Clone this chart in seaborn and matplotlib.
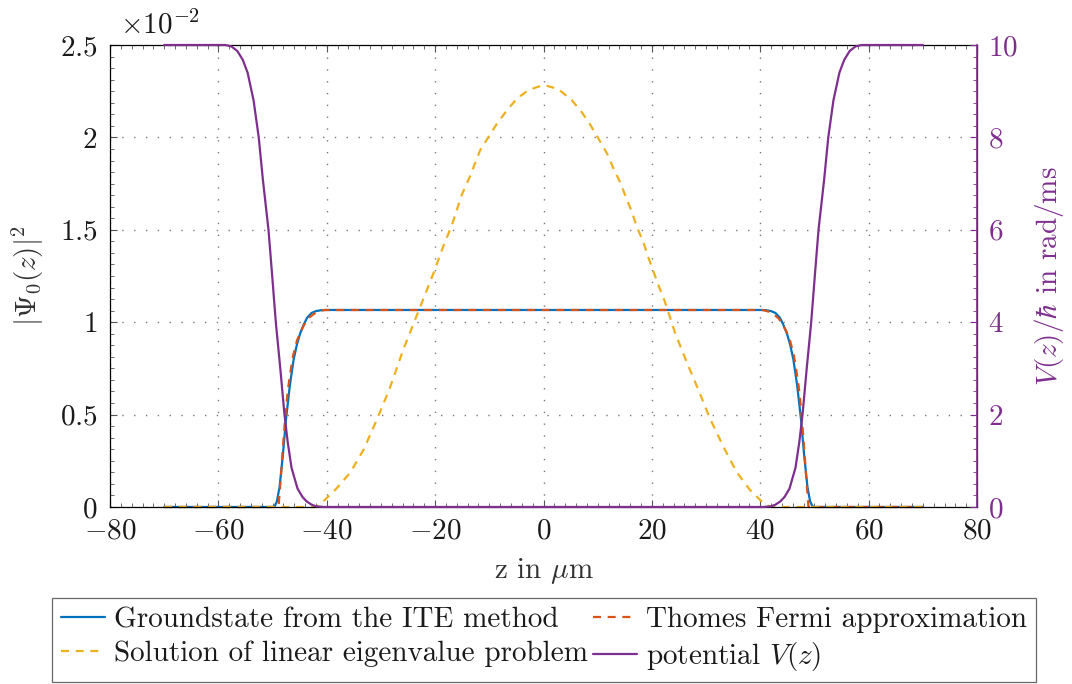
import matplotlib
matplotlib.use("Agg")
import matplotlib.pyplot as plt
from matplotlib.ticker import FixedLocator, FixedFormatter, MultipleLocator
import seaborn as sns

# ---- data: densities in units of 1e-2, potential in rad/ms ----
z_ite = [-70, -50.0, -49.6, -49.2, -48.7, -48.1, -47.5, -46.8, -46.1, -45.5, -44.9,
         -44.2, -43.6, -42.8, -42.0, -41.0, -40.0,
         40.0, 41.0, 42.0, 42.8, 43.6, 44.2, 44.9, 45.5, 46.1, 46.8, 47.5, 48.1,
         48.7, 49.2, 49.6, 50.0, 70]
psi_ite = [0, 0, 0.005, 0.03, 0.11, 0.28, 0.48, 0.66, 0.80, 0.88, 0.94,
           0.99, 1.025, 1.05, 1.06, 1.065, 1.066,
           1.066, 1.065, 1.06, 1.05, 1.025, 0.99, 0.94, 0.88, 0.80, 0.66, 0.48, 0.28,
           0.11, 0.03, 0.005, 0, 0]

z_tf = [-70, -48.9, -48.5, -48.0, -47.5, -47.1, -46.6, -46.2, -45.5, -44.9, -44.2,
        -43.4, -42.6, -41.8, -40.5,
        40.5, 41.8, 42.6, 43.4, 44.2, 44.9, 45.5, 46.2, 46.6, 47.1, 47.5, 48.0,
        48.5, 48.9, 70]
psi_tf = [0, 0, 0.15, 0.36, 0.54, 0.65, 0.75, 0.82, 0.90, 0.945, 0.985,
          1.02, 1.04, 1.055, 1.066,
          1.066, 1.055, 1.04, 1.02, 0.985, 0.945, 0.90, 0.82, 0.75, 0.65, 0.54, 0.36,
          0.15, 0, 0]

z_lin = [-70, -42.0, -41.2, -40.3, -38.2, -35.7, -33.2, -30.8, -28.4, -25.9, -23.4,
         -20.3, -18.5, -16.9, -15.1, -13.6, -11.7, -10.2, -8.6, -6.8, -4.9, -2.8, 0.0,
         2.7, 5.2, 7.0, 8.6, 10.1, 11.7, 12.9, 14.1, 15.3, 16.3, 17.2, 18.4, 19.3, 20.3,
         21.2, 22.4, 24.3, 26.4, 28.6, 30.7, 33.2, 35.6, 38.1, 40.3, 41.2, 42.0, 70]
psi_lin = [0, 0, 0.015, 0.04, 0.10, 0.185, 0.31, 0.47, 0.64, 0.85, 1.035,
           1.265, 1.41, 1.526, 1.688, 1.787, 1.93, 2.0, 2.074, 2.145, 2.21, 2.256, 2.284,
           2.262, 2.202, 2.139, 2.07, 1.995, 1.914, 1.833, 1.76, 1.67, 1.598, 1.517, 1.436,
           1.354, 1.273, 1.201, 1.111, 0.94, 0.786, 0.633, 0.48, 0.326, 0.191, 0.092,
           0.029, 0.01, 0, 0]

z_pot = [-70, -58.7, -57.6, -56.5, -55.5, -54.6, -53.5, -52.55, -51.8, -50.75, -50.1,
         -49.4, -48.55, -47.8, -47.2, -46.5, -45.4, -44.5, -43.7, -42.8, -42.0, -40.5,
         40.5, 42.0, 42.8, 43.7, 44.5, 45.4, 46.5, 47.2, 47.8, 48.55, 49.4, 50.1, 50.75,
         51.8, 52.55, 53.5, 54.6, 55.5, 56.5, 57.6, 58.7, 70]
v_pot = [10, 10, 9.97, 9.87, 9.68, 9.4, 8.8, 8.0, 7.1, 6.0, 5.05,
         4.0, 2.97, 2.0, 1.4, 0.85, 0.4, 0.22, 0.12, 0.05, 0.015, 0,
         0, 0.015, 0.05, 0.12, 0.22, 0.4, 0.85, 1.4, 2.0, 2.97, 4.0, 5.05, 6.0,
         7.1, 8.0, 8.8, 9.4, 9.68, 9.87, 9.97, 10, 10]

x_ticks = [-80, -60, -40, -20, 0, 20, 40, 60, 80]
y_ticks = [0, 0.5, 1, 1.5, 2, 2.5]
y_tick_labels = ["0", "0.5", "1", "1.5", "2", "2.5"]
v_ticks = [0, 2, 4, 6, 8, 10]

labels = ["Groundstate from the ITE method", "Thomes Fermi approximation",
          "Solution of linear eigenvalue problem", "potential $V(z)$"]

C_BLUE = "#0072BD"
C_RED = "#D95319"
C_YEL = "#EDB120"
C_PUR = "#7E2F8E"
GRID = "#7a7a7a"
TICK = "#555555"

sns.set_style("white")
plt.rcParams.update({
    "font.family": "serif",
    "font.serif": ["cmr10"],
    "mathtext.fontset": "cm",
    "axes.formatter.use_mathtext": True,
    "axes.unicode_minus": True,
})

fig = plt.figure(figsize=(10.72, 6.84), dpi=100)
ax = fig.add_axes([0.1026, 0.2588, 0.8088, 0.6754])
ax2 = ax.twinx()

FS = 21

sns.lineplot(x=z_ite, y=psi_ite, ax=ax, color=C_BLUE, lw=1.6, label=labels[0],
             sort=False, estimator=None)
sns.lineplot(x=z_tf, y=psi_tf, ax=ax, color=C_RED, lw=1.6, label=labels[1],
             sort=False, estimator=None)
sns.lineplot(x=z_lin, y=psi_lin, ax=ax, color=C_YEL, lw=1.6, label=labels[2],
             sort=False, estimator=None)
sns.lineplot(x=z_pot, y=v_pot, ax=ax2, color=C_PUR, lw=1.6, label=labels[3],
             sort=False, estimator=None)

h_ite, h_tf, h_lin = ax.lines[0], ax.lines[1], ax.lines[2]
h_pot = ax2.lines[0]
h_tf.set_dashes((3.6, 3.0))
h_lin.set_dashes((3.6, 3.0))
for ln in (h_ite, h_tf, h_lin, h_pot):
    ln.set_clip_on(False)

for a in (ax, ax2):
    if a.get_legend() is not None:
        a.get_legend().remove()

ax.set_xlim(-80, 80)
ax.set_ylim(0, 2.5)
ax2.set_ylim(0, 10)

ax.xaxis.set_major_locator(FixedLocator(x_ticks))
ax.xaxis.set_major_formatter(FixedFormatter([f"${t}$" for t in x_ticks]))
ax.xaxis.set_minor_locator(MultipleLocator(2))
ax.yaxis.set_major_locator(FixedLocator(y_ticks))
ax.yaxis.set_major_formatter(FixedFormatter([f"${t}$" for t in y_tick_labels]))
ax.yaxis.set_minor_locator(MultipleLocator(0.0625))
ax2.yaxis.set_major_locator(FixedLocator(v_ticks))
ax2.yaxis.set_major_formatter(FixedFormatter([f"${t}$" for t in v_ticks]))
ax2.yaxis.set_minor_locator(MultipleLocator(0.25))

ax.grid(True, which="major", color=GRID, lw=1.0, linestyle=(0, (1, 7.5)))
ax.set_axisbelow(True)

ax.tick_params(axis="x", which="both", direction="in", top=True, bottom=True,
               color=TICK, labelsize=FS, pad=8, labelcolor="#1a1a1a")
ax.tick_params(axis="y", which="both", direction="in", left=True, right=False,
               color=TICK, labelsize=FS, pad=9, labelcolor="#1a1a1a")
ax.tick_params(which="major", length=5, width=0.8)
ax.tick_params(which="minor", length=2.8, width=0.6)
ax2.tick_params(axis="y", which="both", direction="in", right=True, left=False,
                color=C_PUR, labelcolor=C_PUR, labelsize=FS, pad=8)
ax2.tick_params(which="major", length=5, width=0.8)
ax2.tick_params(which="minor", length=2.8, width=0.6)

for s in ax.spines.values():
    s.set_color("black")
    s.set_linewidth(0.9)
for name, s in ax2.spines.items():
    s.set_visible(name == "right")
ax2.spines["right"].set_color(C_PUR)
ax2.spines["right"].set_linewidth(1.2)

ax.set_xlabel(r"z in $\mu$m", fontsize=FS, color="#333333", labelpad=8)
ax.set_ylabel(r"$|\Psi_0(z)|^2$", fontsize=FS, color="#333333", labelpad=10)
ax2.set_ylabel(r"$V(z)/\hbar$ in rad/ms", fontsize=FS, color=C_PUR, labelpad=10)

ax.text(0.012, 1.012, r"$\times 10^{-2}$", transform=ax.transAxes,
        fontsize=FS, ha="left", va="bottom", color="#1a1a1a")

leg = fig.legend([h_ite, h_lin, h_tf, h_pot],
                 [labels[0], labels[2], labels[1], labels[3]],
                 ncol=2, loc="upper center", bbox_to_anchor=(0.5075, 0.1257),
                 fontsize=FS, frameon=True, fancybox=False, edgecolor="#444444",
                 handlelength=1.5, handletextpad=0.3, columnspacing=0.2,
                 labelspacing=0.25, borderpad=0.3, borderaxespad=0)
leg.get_frame().set_linewidth(0.9)
for t in leg.get_texts():
    t.set_color("#1a1a1a")

fig.savefig("out.png", dpi=100)
